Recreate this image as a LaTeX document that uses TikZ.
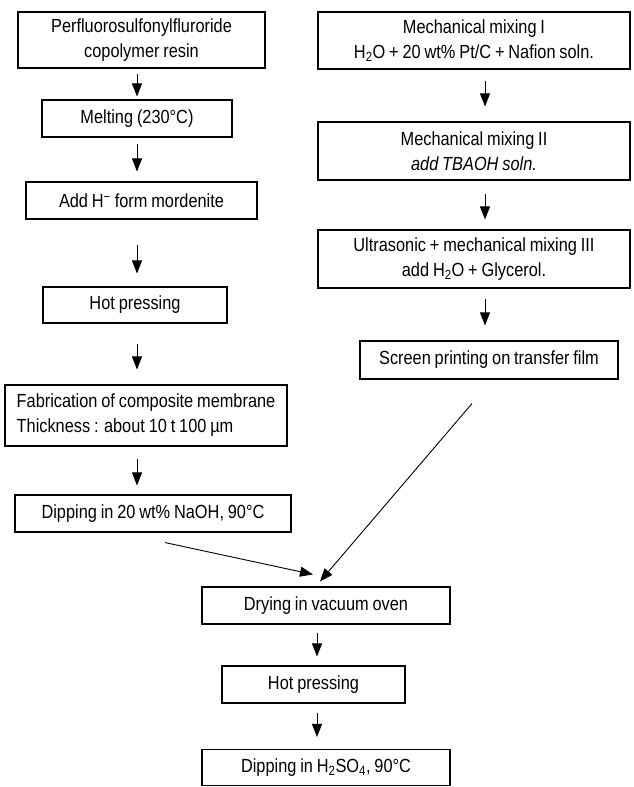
\documentclass[tikz,border=0pt]{standalone}
\usepackage{fontspec}
\setmainfont{Liberation Sans}[FakeStretch=0.86,WordSpace=0.85]
\usetikzlibrary{arrows.meta,calc}
\begin{document}
\begin{tikzpicture}[x=1pt,y=-1pt,
  box/.style={draw,line width=1.1pt,inner sep=0pt,align=center,
    font=\fontsize{19}{25}\selectfont},
  arr/.style={line width=0.9pt,-{Triangle[length=13pt,width=10pt]}}]
\useasboundingbox[fill=white] (0,0) rectangle (633,787);
% left column
\node[box,minimum width=247pt,minimum height=56pt] (b1) at (141.5,40) {Perfluorosulfonylfluroride\\copolymer resin};
\node[box,minimum width=190pt,minimum height=37pt] (b2) at (137,118.5) {Melting (230°C)};
\node[box,minimum width=231pt,minimum height=37pt] (b3) at (141.5,200.5) {Add H\textsuperscript{−} form mordenite};
\node[box,minimum width=184pt,minimum height=36pt] (b4) at (135,305) {Hot pressing};
\node[box,minimum width=282pt,minimum height=61pt,align=left] (b5) at (146,415.5) {Fabrication of composite membrane\\Thickness : about 10 t 100 µm};
\node[box,minimum width=276pt,minimum height=37pt] (b6) at (153,513.5) {Dipping in 20 wt\% NaOH, 90°C};
% right column
\node[box,minimum width=312pt,minimum height=57pt] (r1) at (474,40.5) {Mechanical mixing I\\H\textsubscript{2}O + 20 wt\% Pt/C + Nafion soln.};
\node[box,minimum width=312pt,minimum height=58pt] (r2) at (474,151) {Mechanical mixing II\\\textit{add TBAOH soln.}};
\node[box,minimum width=312pt,minimum height=58pt] (r3) at (474,259) {Ultrasonic + mechanical mixing III\\add H\textsubscript{2}O + Glycerol.};
\node[box,minimum width=258pt,minimum height=38pt] (r4) at (489,360) {Screen printing on transfer film};
% bottom
\node[box,minimum width=248pt,minimum height=37pt] (d1) at (326,605.5) {Drying in vacuum oven};
\node[box,minimum width=183pt,minimum height=37pt] (d2) at (313.5,684.5) {Hot pressing};
\node[box,minimum width=248pt,minimum height=36pt] (d3) at (326,767.5) {Dipping in H\textsubscript{2}SO\textsubscript{4}, 90°C};
% arrow columns
\coordinate (lx) at (137,0);
\coordinate (rx) at (485,0);
\coordinate (bx) at (317,0);
\draw[arr,shorten <=5pt,shorten >=3pt] (b1.south -| lx) -- (b2.north -| lx);
\draw[arr,shorten <=6pt,shorten >=10pt] (b2.south -| lx) -- (b3.north -| lx);
\draw[arr,shorten <=25pt,shorten >=13pt] (b3.south -| lx) -- (b4.north -| lx);
\draw[arr,shorten <=20pt,shorten >=15pt] (b4.south -| lx) -- (b5.north -| lx);
\draw[arr,shorten <=12pt,shorten >=9pt] (b5.south -| lx) -- (b6.north -| lx);
\draw[arr,shorten <=11pt,shorten >=15pt] (r1.south -| rx) -- (r2.north -| rx);
\draw[arr,shorten <=13pt,shorten >=10pt] (r2.south -| rx) -- (r3.north -| rx);
\draw[arr,shorten <=10pt,shorten >=15pt] (r3.south -| rx) -- (r4.north -| rx);
\draw[arr,shorten <=8pt,shorten >=9pt] (d1.south -| bx) -- (d2.north -| bx);
\draw[arr,shorten <=9pt,shorten >=12pt] (d2.south -| bx) -- (d3.north -| bx);
\draw[arr] ($(b6.south)+(12,10)$) -- ($(d1.north)+(-13,-12)$);
\draw[arr] ($(r4.south)+(-17,24)$) -- ($(d1.north)+(-6,-5)$);
\end{tikzpicture}
\end{document}
